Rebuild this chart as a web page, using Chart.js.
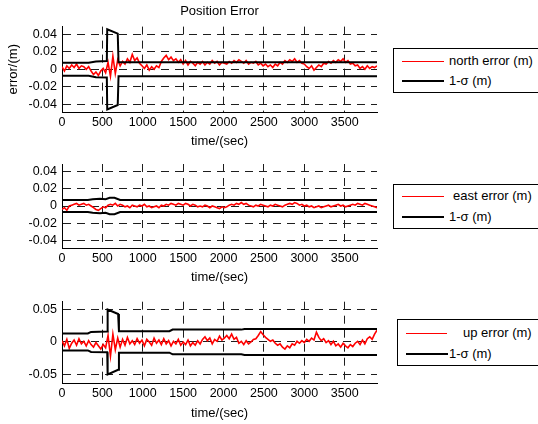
<!DOCTYPE html>
<html>
<head>
<meta charset="utf-8">
<script src="https://cdn.jsdelivr.net/npm/chart.js@4/dist/chart.umd.min.js"></script>
<style>
    body { margin: 0; width: 538px; height: 424px; overflow: hidden; background: #fff; position: relative; font-family: "Liberation Sans", Arial, sans-serif; }
    canvas { position: absolute; left: 0; }
    .legend-box { position: absolute; border: 1px solid #000; box-sizing: border-box; width: 170px; }
    .legend-line { position: absolute; }
    .legend-text { position: absolute; font-size: 13px; line-height: 16px; white-space: nowrap; color: #000; }
</style>
</head>
<body>
<canvas id="northChart" width="390" height="150" style="top:0px"></canvas>
<canvas id="eastChart" width="390" height="136" style="top:150px"></canvas>
<canvas id="upChart" width="390" height="136" style="top:286px"></canvas>
<script>
// sample times (s), one every 30 s
const time = Array.from({ length: 131 }, (_, i) => i * 30);

const xTicks = [0, 500, 1000, 1500, 2000, 2500, 3000, 3500];
const smallTicks = [-0.04, -0.02, 0, 0.02, 0.04];
const upTicks = [-0.05, 0, 0.05];

// north error (m)
const northError = [
    0.003, -0.002, 0.004, 0.001, 0.005, 0.002, 0.006, 0.001, 0.004, 0.003,
    0.000, 0.003, -0.002, -0.006, -0.003, -0.007, -0.002, 0.001, -0.004, 0.008,
    -0.008, 0.015, -0.005, 0.011, 0.004, 0.009, 0.006, 0.012, 0.008, 0.017,
    0.010, 0.013, 0.007, 0.004, 0.001, 0.005, -0.001, 0.003, 0.000, 0.004,
    0.002, 0.009, 0.013, 0.016, 0.011, 0.014, 0.010, 0.012, 0.008, 0.011,
    0.006, 0.010, 0.005, 0.009, 0.007, 0.004, 0.008, 0.006, 0.009, 0.005,
    0.008, 0.006, 0.010, 0.007, 0.009, 0.005, 0.008, 0.007, 0.006, 0.009,
    0.007, 0.010, 0.008, 0.011, 0.009, 0.007, 0.010, 0.006, 0.008, 0.007,
    0.009, 0.005, 0.007, 0.004, 0.006, 0.003, 0.005, 0.002, 0.006, 0.004,
    0.008, 0.006, 0.010, 0.008, 0.011, 0.009, 0.012, 0.008, 0.010, 0.007,
    0.006, 0.003, 0.001, 0.004, -0.001, 0.002, 0.005, 0.003, 0.007, 0.006,
    0.009, 0.007, 0.010, 0.008, 0.011, 0.009, 0.012, 0.008, 0.010, 0.006,
    0.007, 0.004, 0.005, 0.001, 0.003, 0.000, 0.004, 0.001, 0.003, 0.002, 0.004
];

// east error (m)
const eastError = [
    -0.004, -0.002, -0.005, 0.000, 0.001, 0.002, 0.003, 0.001, 0.002, 0.003,
    0.001, 0.002, 0.000, -0.002, -0.004, -0.005, -0.003, -0.001, -0.002, 0.001,
    0.002, 0.001, 0.003, 0.000, 0.002, 0.001, -0.001, 0.000, -0.002, 0.001,
    0.000, -0.001, 0.001, 0.000, 0.002, -0.001, 0.000, -0.002, -0.001, 0.000,
    -0.002, 0.001, 0.000, 0.002, 0.001, 0.003, 0.002, 0.001, 0.003, 0.002,
    0.001, 0.003, 0.002, 0.000, 0.002, 0.001, -0.001, 0.000, -0.001, 0.001,
    0.000, -0.002, 0.000, -0.001, -0.002, -0.003, -0.001, -0.002, -0.001, 0.001,
    0.002, 0.001, 0.003, 0.002, 0.004, 0.002, 0.003, 0.001, 0.000, -0.001,
    0.001, 0.000, 0.002, 0.001, 0.000, -0.001, 0.001, 0.000, 0.002, 0.001,
    0.000, -0.001, 0.001, 0.002, 0.003, 0.002, 0.004, 0.003, 0.001, 0.002,
    0.000, 0.001, -0.001, 0.000, -0.002, -0.001, 0.000, -0.002, -0.001, 0.000,
    0.001, -0.001, 0.000, 0.001, 0.002, 0.000, 0.001, -0.001, 0.000, 0.001,
    0.002, 0.001, 0.003, 0.002, 0.001, 0.003, 0.002, 0.001, 0.000, -0.001, -0.002
];

// up error (m)
const upError = [
    0.002, -0.006, 0.004, -0.010, -0.002, 0.003, -0.005, 0.005, -0.003, 0.001,
    -0.006, 0.002, -0.004, -0.008, -0.001, -0.006, -0.011, -0.004, -0.009, 0.010,
    -0.022, 0.012, -0.012, 0.006, -0.008, 0.004, -0.005, 0.007, -0.003, 0.002,
    -0.004, 0.005, -0.002, 0.003, -0.006, 0.004, 0.000, -0.005, 0.006, -0.002,
    0.003, -0.004, 0.005, -0.003, 0.002, -0.006, 0.001, -0.003, 0.004, -0.005,
    0.000, -0.004, 0.003, -0.006, -0.001, -0.005, 0.002, -0.003, 0.004, 0.008,
    0.002, 0.006, -0.003, 0.004, 0.001, 0.009, 0.003, 0.006, 0.010, 0.005,
    0.012, 0.004, 0.007, -0.002, 0.001, -0.004, 0.002, -0.003, 0.000, 0.004,
    0.005, 0.010, 0.016, 0.011, 0.007, 0.004, 0.001, 0.003, -0.002, -0.005,
    -0.003, -0.008, -0.011, -0.006, -0.009, -0.003, -0.005, 0.001, -0.002, 0.002,
    -0.001, 0.004, 0.001, 0.006, 0.003, 0.015, 0.007, 0.002, 0.005, -0.001,
    0.002, -0.004, 0.001, -0.006, -0.003, -0.008, -0.002, -0.006, -0.009, -0.004,
    -0.007, -0.002, 0.001, -0.004, 0.003, -0.003, 0.005, 0.008, 0.004, 0.012, 0.018
];

// 1-sigma bounds (m) and their break times (s)
const northSigmaT = [0, 330, 420, 555, 560, 690, 700, 3900];
const northSigma = [0.0075, 0.0075, 0.009, 0.0095, 0.046, 0.041, 0.008, 0.008];
const eastSigmaT = [0, 320, 380, 470, 540, 590, 650, 720, 3900];
const eastSigma = [0.007, 0.007, 0.008, 0.0085, 0.008, 0.0095, 0.0095, 0.007, 0.007];
const upSigmaT = [0, 320, 360, 560, 565, 695, 705, 1330, 1370, 2220, 2260, 3900];
const upSigma = [0.013, 0.013, 0.0155, 0.016, 0.050, 0.043, 0.0165, 0.0165, 0.019, 0.019, 0.020, 0.020];

Chart.defaults.font.family = '"Liberation Sans", Arial, sans-serif';
Chart.defaults.color = '#000';

const gridStyle = { color: '#1e1e1e', lineWidth: 1, drawTicks: false };
const borderStyle = { display: true, color: '#000', width: 1, dash: [8, 6] };

function makePlot(id, cfg) {
    const datasets = [
        { data: cfg.sigT.map((t, i) => ({ x: t, y: cfg.sig[i] })), borderColor: '#000', borderWidth: 2 },
        { data: cfg.sigT.map((t, i) => ({ x: t, y: -cfg.sig[i] })), borderColor: '#000', borderWidth: 2 },
        { data: time.map((t, i) => ({ x: t, y: cfg.err[i] })), borderColor: '#ff0000', borderWidth: 1.6 }
    ];

    return new Chart(document.getElementById(id), {
        type: 'line',
        data: { datasets: datasets },
        options: {
            responsive: false,
            animation: false,
            elements: { point: { radius: 0 }, line: { tension: 0 } },
            layout: { padding: { top: cfg.padTop, right: 13, left: 0, bottom: 0 } },
            plugins: {
                legend: { display: false },
                tooltip: { enabled: false },
                title: {
                    display: !!cfg.title,
                    text: cfg.title || '',
                    fullSize: false,
                    font: { size: 13, weight: 'normal' },
                    padding: { top: 4, bottom: 7 }
                }
            },
            scales: {
                x: {
                    type: 'linear',
                    min: 0,
                    max: 3900,
                    afterBuildTicks: axis => { axis.ticks = xTicks.map(v => ({ value: v })); },
                    afterFit: axis => { axis.height = cfg.xAxisH; },
                    grid: gridStyle,
                    border: borderStyle,
                    ticks: { padding: 3, maxRotation: 0, autoSkip: false, font: { size: 12.5 }, callback: v => String(v) },
                    title: { display: true, text: 'time/(sec)', font: { size: 13 }, padding: { top: 0, bottom: 1.2 } }
                },
                y: {
                    type: 'linear',
                    min: cfg.yMin,
                    max: cfg.yMax,
                    afterBuildTicks: axis => { axis.ticks = cfg.yTicks.map(v => ({ value: v })); },
                    afterFit: axis => { axis.width = 62; },
                    grid: gridStyle,
                    border: borderStyle,
                    ticks: { padding: 5, font: { size: 12.5 }, callback: v => String(v) },
                    title: { display: !!cfg.yTitle, text: cfg.yTitle || '', font: { size: 13 }, padding: { top: 6, bottom: 0 } }
                }
            }
        }
    });
}

makePlot('northChart', {
    err: northError, sig: northSigma, sigT: northSigmaT,
    yMin: -0.049, yMax: 0.049, yTicks: smallTicks,
    title: 'Position Error', yTitle: 'error/(m)', padTop: 0, xAxisH: 38
});
makePlot('eastChart', {
    err: eastError, sig: eastSigma, sigT: eastSigmaT,
    yMin: -0.049, yMax: 0.049, yTicks: smallTicks,
    padTop: 14, xAxisH: 38
});
makePlot('upChart', {
    err: upError, sig: upSigma, sigT: upSigmaT,
    yMin: -0.064, yMax: 0.062, yTicks: upTicks,
    padTop: 15.7, xAxisH: 38.5
});

// MATLAB-style legend boxes at the right, drawn in page coordinates
function addEl(cls, left, top, width, height, color) {
    const el = document.createElement('div');
    el.className = cls;
    el.style.left = left + 'px';
    el.style.top = top + 'px';
    if (width) el.style.width = width + 'px';
    if (height) el.style.height = height + 'px';
    if (color) el.style.background = color;
    document.body.appendChild(el);
    return el;
}

function addLegend(box, entries) {
    addEl('legend-box', box.left, box.top, null, box.height);
    entries.forEach(e => {
        addEl('legend-line', e.x1, e.y - e.w / 2, e.x2 - e.x1, e.w, e.color);
        const txt = addEl('legend-text', e.tx, e.y - 8);
        txt.textContent = e.label;
    });
}

addLegend({ left: 393, top: 48, height: 45 }, [
    { label: 'north error (m)', color: '#ff0000', w: 1, x1: 402, x2: 444, y: 61, tx: 449 },
    { label: '1-σ (m)', color: '#000', w: 2, x1: 402, x2: 444, y: 81, tx: 449 }
]);
addLegend({ left: 393, top: 184, height: 45 }, [
    { label: 'east error (m)', color: '#ff0000', w: 1, x1: 402, x2: 444, y: 196, tx: 453 },
    { label: '1-σ (m)', color: '#000', w: 2, x1: 402, x2: 444, y: 217, tx: 449 }
]);
addLegend({ left: 397, top: 319, height: 47 }, [
    { label: 'up error (m)', color: '#ff0000', w: 1, x1: 406, x2: 447, y: 333, tx: 463 },
    { label: '1-σ (m)', color: '#000', w: 2, x1: 406, x2: 448, y: 354, tx: 449 }
]);
</script>
</body>
</html>
